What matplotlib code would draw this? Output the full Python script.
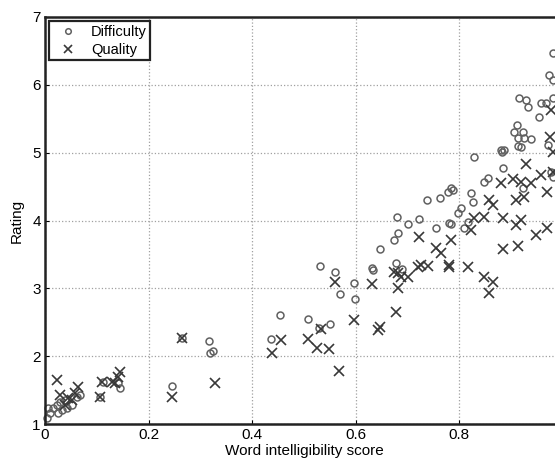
import numpy as np
import matplotlib.pyplot as plt

plt.rcParams['font.family'] = ['Liberation Sans', 'DejaVu Sans']

# Difficulty ratings (circles)
diff_x = [0.004, 0.006, 0.010, 0.015, 0.023, 0.025, 0.029, 0.033, 0.039, 0.043,
          0.052, 0.062, 0.068, 0.106, 0.112, 0.141, 0.145,
          0.246, 0.265, 0.317, 0.319, 0.325,
          0.437, 0.453, 0.507, 0.528, 0.551, 0.530, 0.559, 0.569, 0.596, 0.598,
          0.634, 0.632, 0.646, 0.673, 0.677, 0.681, 0.690, 0.679, 0.700, 0.722,
          0.754, 0.780, 0.737, 0.762, 0.778, 0.783, 0.787, 0.822, 0.826, 0.803,
          0.797, 0.816, 0.809, 0.783, 0.828, 0.847, 0.855, 0.882, 0.884, 0.923,
          0.977, 0.980, 0.880, 0.886, 0.905, 0.911, 0.913, 0.913, 0.919, 0.923,
          0.925, 0.938, 0.954, 0.971, 0.915, 0.928, 0.932, 0.957, 0.967, 0.980,
          0.973, 0.980, 0.980]
diff_y = [1.09, 1.24, 1.16, 1.24, 1.28, 1.16, 1.32, 1.21, 1.35, 1.24,
          1.28, 1.40, 1.43, 1.40, 1.62, 1.60, 1.53,
          1.56, 2.27, 2.22, 2.05, 2.08,
          2.25, 2.61, 2.55, 2.42, 2.47, 3.33, 3.24, 2.92, 3.08, 2.84,
          3.27, 3.30, 3.58, 3.71, 3.37, 3.82, 3.28, 4.05, 3.95, 4.02,
          3.89, 3.96, 4.30, 4.33, 4.42, 4.48, 4.45, 4.41, 4.27, 4.18,
          4.11, 3.98, 3.89, 3.95, 4.94, 4.57, 4.63, 5.01, 4.77, 4.48,
          4.72, 4.64, 5.04, 5.04, 5.31, 5.41, 5.22, 5.10, 5.08, 5.31,
          5.22, 5.20, 5.53, 5.11, 5.81, 5.78, 5.67, 5.73, 5.73, 5.81,
          6.15, 6.07, 6.47]

# Quality ratings (crosses)
qual_x = [0.023, 0.029, 0.039, 0.045, 0.052, 0.058, 0.064, 0.106, 0.110, 0.130,
          0.135, 0.141, 0.145,
          0.246, 0.265, 0.329,
          0.439, 0.455, 0.507, 0.526, 0.532, 0.549, 0.567, 0.559, 0.596,
          0.632, 0.642, 0.646, 0.677, 0.681, 0.673, 0.687, 0.700, 0.720, 0.739,
          0.780, 0.681, 0.722, 0.754, 0.764, 0.783, 0.780, 0.725,
          0.816, 0.847, 0.865, 0.857, 0.884, 0.913, 0.822, 0.828, 0.847, 0.884,
          0.909, 0.919, 0.969, 0.948, 0.857, 0.865, 0.909, 0.925, 0.880, 0.903,
          0.919, 0.938, 0.957, 0.980, 0.969, 0.928, 0.975, 0.980, 0.977]
qual_y = [1.65, 1.43, 1.28, 1.38, 1.35, 1.46, 1.55, 1.40, 1.62, 1.62,
          1.60, 1.69, 1.77,
          1.40, 2.27, 1.60,
          2.05, 2.24, 2.25, 2.12, 2.40, 2.10, 1.78, 3.09, 2.53,
          3.06, 2.39, 2.43, 2.65, 3.00, 3.24, 3.17, 3.17, 3.31, 3.33,
          3.31, 3.23, 3.76, 3.59, 3.52, 3.71, 3.34, 3.34,
          3.31, 3.17, 3.09, 2.93, 3.58, 3.62, 3.86, 4.04, 4.05, 4.04,
          3.93, 4.01, 3.89, 3.79, 4.30, 4.23, 4.30, 4.35, 4.55, 4.61,
          4.57, 4.55, 4.67, 4.72, 4.42, 4.83, 5.23, 5.01, 5.63]

xticks = [0, 0.2, 0.4, 0.6, 0.8, 1.0]
# the label at 1 falls outside the cropped picture, so it is left blank
xtick_labels = ['0', '0.2', '0.4', '0.6', '0.8', '']
yticks = [1, 2, 3, 4, 5, 6, 7]

fig = plt.figure(figsize=(5.55, 4.66), dpi=100)
# the right edge of the axes runs past the picture, as in the reference
ax = fig.add_axes([45/555, 1 - 424/466, 518/555, 407/466])

ax.plot(diff_x, diff_y, 'o', mfc='none', mec='#606060', ms=5, mew=1.1,
        label='Difficulty', clip_on=False)
ax.plot(qual_x, qual_y, 'x', color='#383838', ms=7, mew=1.2,
        label='Quality', clip_on=False)

ax.set_xlim(0, 1)
ax.set_ylim(1, 7)
ax.set_xticks(xticks)
ax.set_xticklabels(xtick_labels)
ax.set_yticks(yticks)
ax.grid(True, linestyle=':', color='#a0a0a0', linewidth=0.9)
ax.tick_params(direction='in', length=3, labelsize=11, pad=3)
for s in ax.spines.values():
    s.set_linewidth(1.8)
    s.set_color('#222222')

ax.set_xlabel('Word intelligibility score', fontsize=11, labelpad=1)
ax.set_ylabel('Rating', fontsize=11, labelpad=6)

leg = ax.legend(loc='upper left', fancybox=False, framealpha=1,
                edgecolor='#222222', fontsize=10.5, borderaxespad=0.3,
                handletextpad=0.6, borderpad=0.25, labelspacing=0.25,
                markerscale=0.8)
leg.get_frame().set_linewidth(1.6)

fig.savefig('out.png', dpi=100)
